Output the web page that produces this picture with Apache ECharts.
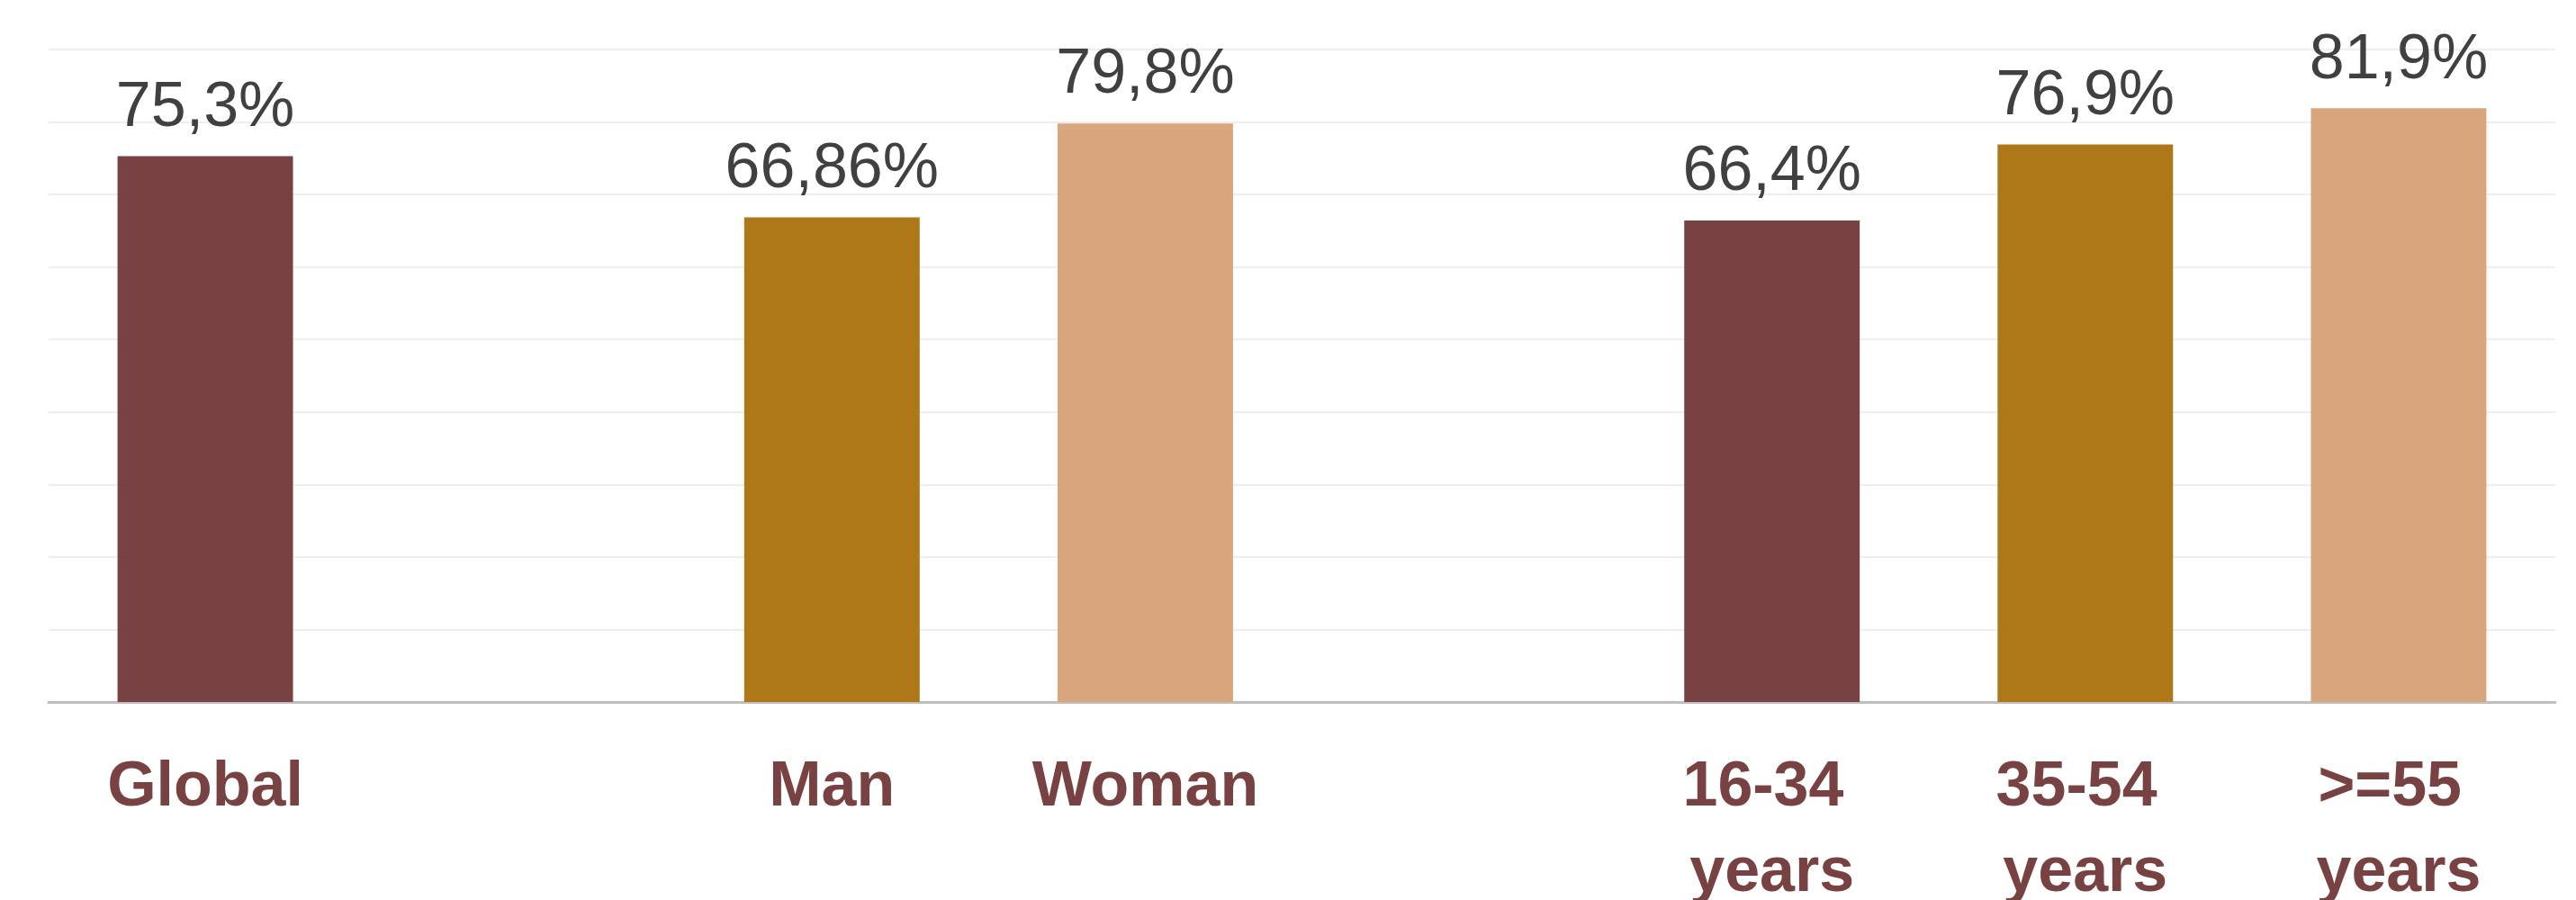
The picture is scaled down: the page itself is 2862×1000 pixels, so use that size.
<!DOCTYPE html>
<html>
<head>
<meta charset="utf-8">
<script src="https://cdn.jsdelivr.net/npm/echarts@6/dist/echarts.min.js"></script>
<style>html,body{margin:0;padding:0;background:#fff;}#c{width:2862px;height:1000px;}</style>
</head>
<body>
<div id="c"></div>
<script>
const categories = ['Global', '', 'Man', 'Woman', '', '16-34 years', '35-54 years', '>=55 years'];
const values = [75.3, null, 66.86, 79.8, null, 66.4, 76.9, 81.9];
const barColors = ['#784242', null, '#AE7819', '#D9A57C', null, '#784242', '#AE7819', '#D9A57C'];
const yTicks = { min: 0, max: 90, interval: 10 };

const chart = echarts.init(document.getElementById('c'));
chart.setOption({
  animation: false,
  backgroundColor: '#ffffff',
  grid: { left: 54, right: 23, top: 55, bottom: 220, containLabel: false, outerBoundsMode: 'none' },
  xAxis: {
    type: 'category',
    data: categories,
    axisLine: { lineStyle: { color: '#BFBFBF', width: 3 } },
    axisTick: { show: false },
    axisLabel: {
      interval: 0,
      color: '#784242',
      fontFamily: 'Liberation Sans, Arial, sans-serif',
      fontWeight: 'bold',
      fontSize: 70,
      lineHeight: 95,
      margin: 48,
      width: 330,
      overflow: 'break'
    }
  },
  yAxis: {
    type: 'value',
    min: yTicks.min, max: yTicks.max, interval: yTicks.interval,
    axisLine: { show: false },
    axisTick: { show: false },
    axisLabel: { show: false },
    splitLine: { lineStyle: { color: '#EEEEEE', width: 2 } }
  },
  series: [{
    type: 'bar',
    barWidth: '56%',
    data: values.map((v, i) => v === null ? null : { value: v, itemStyle: { color: barColors[i] } }),
    label: {
      show: true,
      position: 'top',
      distance: 18,
      color: '#404040',
      fontFamily: 'Liberation Sans, Arial, sans-serif',
      fontSize: 70,
      formatter: p => String(p.value).replace('.', ',') + '%'
    }
  }]
});
</script>
</body>
</html>
